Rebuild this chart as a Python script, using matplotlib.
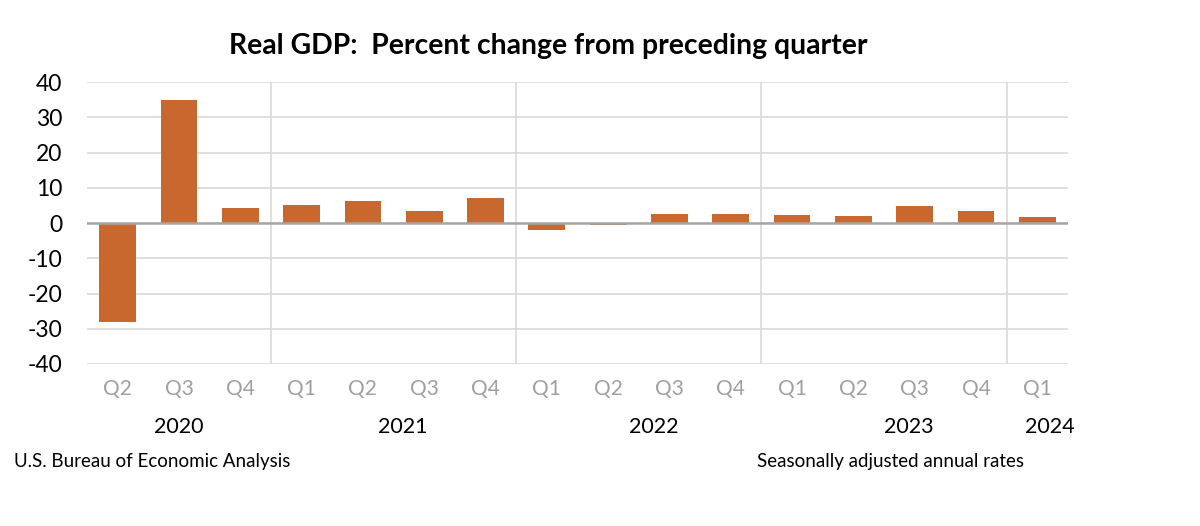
import matplotlib
matplotlib.use("Agg")
import matplotlib.pyplot as plt
import matplotlib.transforms as mtransforms

quarters = ["Q2", "Q3", "Q4", "Q1", "Q2", "Q3", "Q4", "Q1", "Q2", "Q3", "Q4",
            "Q1", "Q2", "Q3", "Q4", "Q1"]
gdp_change = [-28.0, 34.8, 4.2, 5.2, 6.2, 3.3, 7.0, -2.0, -0.6, 2.7, 2.6,
              2.2, 2.1, 4.9, 3.4, 1.6]
years = ["2020", "2021", "2022", "2023", "2024"]
y_ticks = [40, 30, 20, 10, 0, -10, -20, -30, -40]

# layout constants
year_label_x = [1.0, 4.65, 8.75, 12.9, 15.2]
year_separators = [2.5, 6.5, 10.5, 14.5]

plt.rcParams['font.family'] = ['Lato', 'DejaVu Sans']

fig = plt.figure(figsize=(12, 5.26), dpi=100)
ax = fig.add_axes([0.0725, 0.308, 0.8175, 0.536])

x = list(range(len(gdp_change)))
ax.bar(x, gdp_change, width=0.6, color='#C8682F', zorder=3)

ax.set_xlim(-0.5, len(gdp_change) - 0.5)
ax.set_ylim(-40, 40)
ax.set_yticks(y_ticks)
ax.set_yticklabels([str(v) for v in y_ticks])
ax.yaxis.grid(True, color='#D9D9D9', linewidth=1.2, zorder=0)
for s in year_separators:
    ax.axvline(s, color='#D9D9D9', linewidth=1.2, zorder=0)
ax.axhline(0, color='#A6A6A6', linewidth=1.8, zorder=4)

for sp in ax.spines.values():
    sp.set_visible(False)

ax.tick_params(axis='y', length=0, labelsize=16.5, pad=18, labelcolor='black')
ax.set_xticks(x)
ax.set_xticklabels(quarters)
ax.tick_params(axis='x', length=0, labelsize=15, pad=11, labelcolor='#A0A0A0')

trans = mtransforms.blended_transform_factory(ax.transData, fig.transFigure)
for yr, xp in zip(years, year_label_x):
    ax.text(xp, 1 - 427 / 526, yr, transform=trans, ha='center', va='center',
            fontsize=15.5, color='black')

fig.text(548 / 1200, 1 - 46 / 526, "Real GDP:  Percent change from preceding quarter",
         ha='center', va='center', fontsize=20.4, fontweight='bold', color='black')
fig.text(14 / 1200, 1 - 461 / 526, "U.S. Bureau of Economic Analysis",
         ha='left', va='center', fontsize=13.5, color='black')
fig.text(757 / 1200, 1 - 461 / 526, "Seasonally adjusted annual rates",
         ha='left', va='center', fontsize=13.5, color='black')

fig.savefig("out.png", dpi=100, facecolor='white')
